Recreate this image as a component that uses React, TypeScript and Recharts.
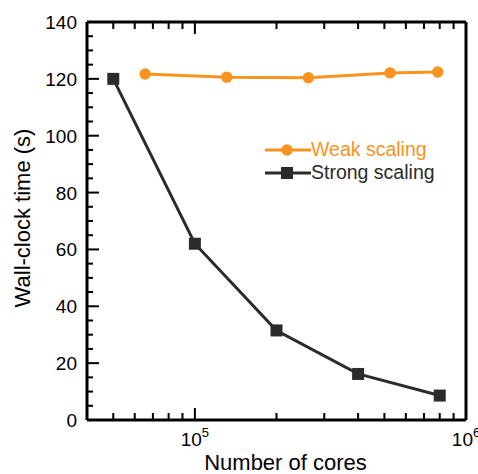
import React from 'react';
import { LineChart, Line, XAxis, YAxis, Legend } from 'recharts';

const STRONG_CORES = [50000, 100000, 200000, 400000, 800000];
const STRONG_TIME = [120, 62, 31.5, 16.2, 8.6];
const WEAK_CORES = [65536, 131072, 262144, 524288, 786432];
const WEAK_TIME = [121.7, 120.6, 120.4, 122.1, 122.4];

const X_TICKS = [40000, 50000, 60000, 70000, 80000, 90000, 100000, 200000, 300000, 400000, 500000, 600000, 700000, 800000, 900000, 1000000];
const X_MAJOR = [100000, 1000000];
const Y_TICKS = [0, 5, 10, 15, 20, 25, 30, 35, 40, 45, 50, 55, 60, 65, 70, 75, 80, 85, 90, 95, 100, 105, 110, 115, 120, 125, 130, 135, 140];
const Y_MAJOR = [0, 20, 40, 60, 80, 100, 120, 140];

const ORANGE = '#f7931e';
const DARK = '#2b2b2b';
const FONT = '"Liberation Sans", Arial, sans-serif';

const strongData = STRONG_CORES.map((x, i) => ({ x, y: STRONG_TIME[i] }));
const weakData = WEAK_CORES.map((x, i) => ({ x, y: WEAK_TIME[i] }));

// tick marks are drawn as thin filled rects, pointing into the plot
const BottomTick = (props: any) => {
  const { x, y, payload } = props;
  const major = X_MAJOR.includes(payload.value);
  const exp = Math.round(Math.log10(payload.value));
  const len = major ? 12 : 7;
  return (
    <g>
      <rect x={x - 1} y={y - len} width={2} height={len} fill="#000" />
      {major && (
        <text x={x} y={y + 26} textAnchor="middle" fontSize={19} fontFamily={FONT} fill="#000">
          10<tspan dy={-9} fontSize={13}>{exp}</tspan>
        </text>
      )}
    </g>
  );
};

const TopTick = (props: any) => {
  const { x, y, payload } = props;
  const len = X_MAJOR.includes(payload.value) ? 12 : 7;
  return <rect x={x - 1} y={y} width={2} height={len} fill="#000" />;
};

const LeftTick = (props: any) => {
  const { x, y, payload } = props;
  const major = Y_MAJOR.includes(payload.value);
  const len = major ? 12 : 6;
  return (
    <g>
      <rect x={x} y={y - 1} width={len} height={2} fill="#000" />
      {major && (
        <text x={x - 10} y={y + 7} textAnchor="end" fontSize={19} fontFamily={FONT} fill="#000">
          {payload.value}
        </text>
      )}
    </g>
  );
};

const RightTick = (props: any) => {
  const { x, y, payload } = props;
  const len = Y_MAJOR.includes(payload.value) ? 12 : 6;
  return <rect x={x - len} y={y - 1} width={len} height={2} fill="#000" />;
};

const SquareDot = (props: any) => {
  const { cx, cy, index } = props;
  return <rect key={`sq-${index}`} x={cx - 6} y={cy - 6} width={12} height={12} fill={DARK} />;
};

const LEGEND_ITEMS = [
  { name: 'Weak scaling', color: ORANGE, shape: 'circle' },
  { name: 'Strong scaling', color: DARK, shape: 'square' },
];

const renderLegend = () => (
  <div style={{ fontFamily: FONT, fontSize: 19.5, lineHeight: '23px' }}>
    {LEGEND_ITEMS.map(item => (
      <div key={item.name} style={{ display: 'flex', alignItems: 'center', height: 23 }}>
        <svg width={46} height={14} style={{ display: 'block' }}>
          <line x1={0} x2={46} y1={7} y2={7} stroke={item.color} strokeWidth={3} />
          {item.shape === 'circle'
            ? <circle cx={22} cy={7} r={5.7} fill={item.color} />
            : <rect x={16} y={1} width={12} height={12} fill={item.color} />}
        </svg>
        <span style={{ color: item.color }}>{item.name}</span>
      </div>
    ))}
  </div>
);

const AXIS_LINE = { stroke: '#000', strokeWidth: 3 };

export default function App() {
  return (
    <div style={{ position: 'absolute', left: 0, top: 0 }}>
      <LineChart width={478} height={474} margin={{ top: 2, right: 2, bottom: 0, left: 0 }}>
        <XAxis
          dataKey="x"
          type="number"
          scale="log"
          domain={[40000, 1000000]}
          allowDataOverflow
          ticks={X_TICKS}
          interval={0}
          tickSize={0}
          tickMargin={0}
          tickLine={false}
          tick={<BottomTick />}
          height={54}
          stroke="#000"
          axisLine={AXIS_LINE}
          label={{
            content: (p: any) => {
              const vb = p.viewBox || { x: 87, y: 420, width: 379, height: 54 };
              return (
                <text x={vb.x + vb.width / 2 + 9} y={vb.y + vb.height - 4} textAnchor="middle" fontSize={22} fontFamily={FONT} fill="#000">
                  Number of cores
                </text>
              );
            },
          }}
        />
        <XAxis
          xAxisId="top"
          orientation="top"
          dataKey="x"
          type="number"
          scale="log"
          domain={[40000, 1000000]}
          allowDataOverflow
          ticks={X_TICKS}
          interval={0}
          tickSize={0}
          tickMargin={0}
          tickLine={false}
          tick={<TopTick />}
          height={20}
          stroke="#000"
          axisLine={AXIS_LINE}
        />
        <YAxis
          type="number"
          domain={[0, 140]}
          ticks={Y_TICKS}
          interval={0}
          tickSize={0}
          tickMargin={0}
          tickLine={false}
          tick={<LeftTick />}
          width={87}
          stroke="#000"
          axisLine={AXIS_LINE}
          label={{
            content: (p: any) => {
              const vb = p.viewBox || { x: 0, y: 22, width: 87, height: 398 };
              const cy = vb.y + vb.height / 2 - 3;
              return (
                <text transform={`translate(30, ${cy}) rotate(-90)`} textAnchor="middle" fontSize={22} fontFamily={FONT} fill="#000">
                  Wall-clock time (s)
                </text>
              );
            },
          }}
        />
        <YAxis
          yAxisId="right"
          orientation="right"
          type="number"
          domain={[0, 140]}
          ticks={Y_TICKS}
          interval={0}
          tickSize={0}
          tickMargin={0}
          tickLine={false}
          tick={<RightTick />}
          width={10}
          stroke="#000"
          axisLine={AXIS_LINE}
        />
        <Legend
          layout="vertical"
          align="center"
          verticalAlign="middle"
          content={renderLegend}
          wrapperStyle={{ left: 265, top: 138, width: 'auto' }}
        />
        <Line
          data={weakData}
          dataKey="y"
          name="Weak scaling"
          stroke={ORANGE}
          strokeWidth={3}
          dot={{ r: 5.7, fill: ORANGE, stroke: 'none' }}
          isAnimationActive={false}
        />
        <Line
          data={strongData}
          dataKey="y"
          name="Strong scaling"
          stroke={DARK}
          strokeWidth={3}
          dot={<SquareDot />}
          isAnimationActive={false}
        />
      </LineChart>
    </div>
  );
}
